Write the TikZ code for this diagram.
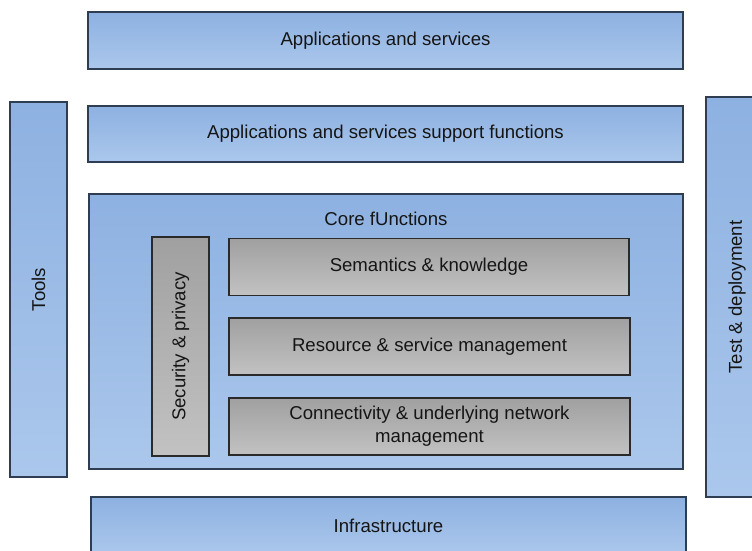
\documentclass[tikz,border=0pt]{standalone}
\usepackage{fontspec}
\setmainfont{Liberation Sans}
\definecolor{bdark}{HTML}{8DB1E1}
\definecolor{blight}{HTML}{ABC7EC}
\definecolor{gdark}{HTML}{A0A0A0}
\definecolor{glight}{HTML}{C2C2C2}
\definecolor{bline}{HTML}{2F3D52}
\definecolor{gline}{HTML}{2A2A2A}
\definecolor{txt}{HTML}{151515}
\begin{document}
\begin{tikzpicture}[x=1pt,y=-1pt,
  base/.style={anchor=center, inner sep=0pt, line width=1.1pt, text=txt,
    font=\fontsize{18.6}{23}\selectfont, align=center},
  bluebox/.style={base, draw=bline, top color=bdark, bottom color=blight},
  graybox/.style={base, draw=gline, top color=gdark, bottom color=glight},
]
\useasboundingbox (0,0) rectangle (752,550);
\clip (0,0) rectangle (752,550);
% horizontal blue layers
\node[bluebox, minimum width=595pt, minimum height=57pt] (app) at (385.5,40.5) {Applications and services};
\node[bluebox, minimum width=595pt, minimum height=56pt] (sup) at (385.5,134) {Applications and services support functions};
\node[bluebox, minimum width=594pt, minimum height=275pt] (core) at (386,331.5) {};
\node[base] (coretitle) at (386,219) {Core fUnctions};
\node[bluebox, minimum width=595pt, minimum height=57pt] (infra) at (388.5,525.5) {Infrastructure};
% vertical blue layers
\node[bluebox, rotate=90, minimum width=375pt, minimum height=57pt] (tools) at (38.5,289.5) {Tools};
\node[bluebox, rotate=90, minimum width=400pt, minimum height=62pt] (test) at (737,297) {Test \& deployment};
% gray blocks
\node[graybox, rotate=90, minimum width=219pt, minimum height=57pt] (sec) at (180.5,346.5) {Security \& privacy};
\node[graybox, minimum width=400pt, minimum height=57pt] (sem) at (429,267) {Semantics \& knowledge};
\node[graybox, minimum width=401pt, minimum height=57pt] (res) at (429.5,346.5) {Resource \& service management};
\node[graybox, minimum width=401pt, minimum height=57pt] (con) at (429.5,426.5) {Connectivity \& underlying network\\management};
\end{tikzpicture}
\end{document}
